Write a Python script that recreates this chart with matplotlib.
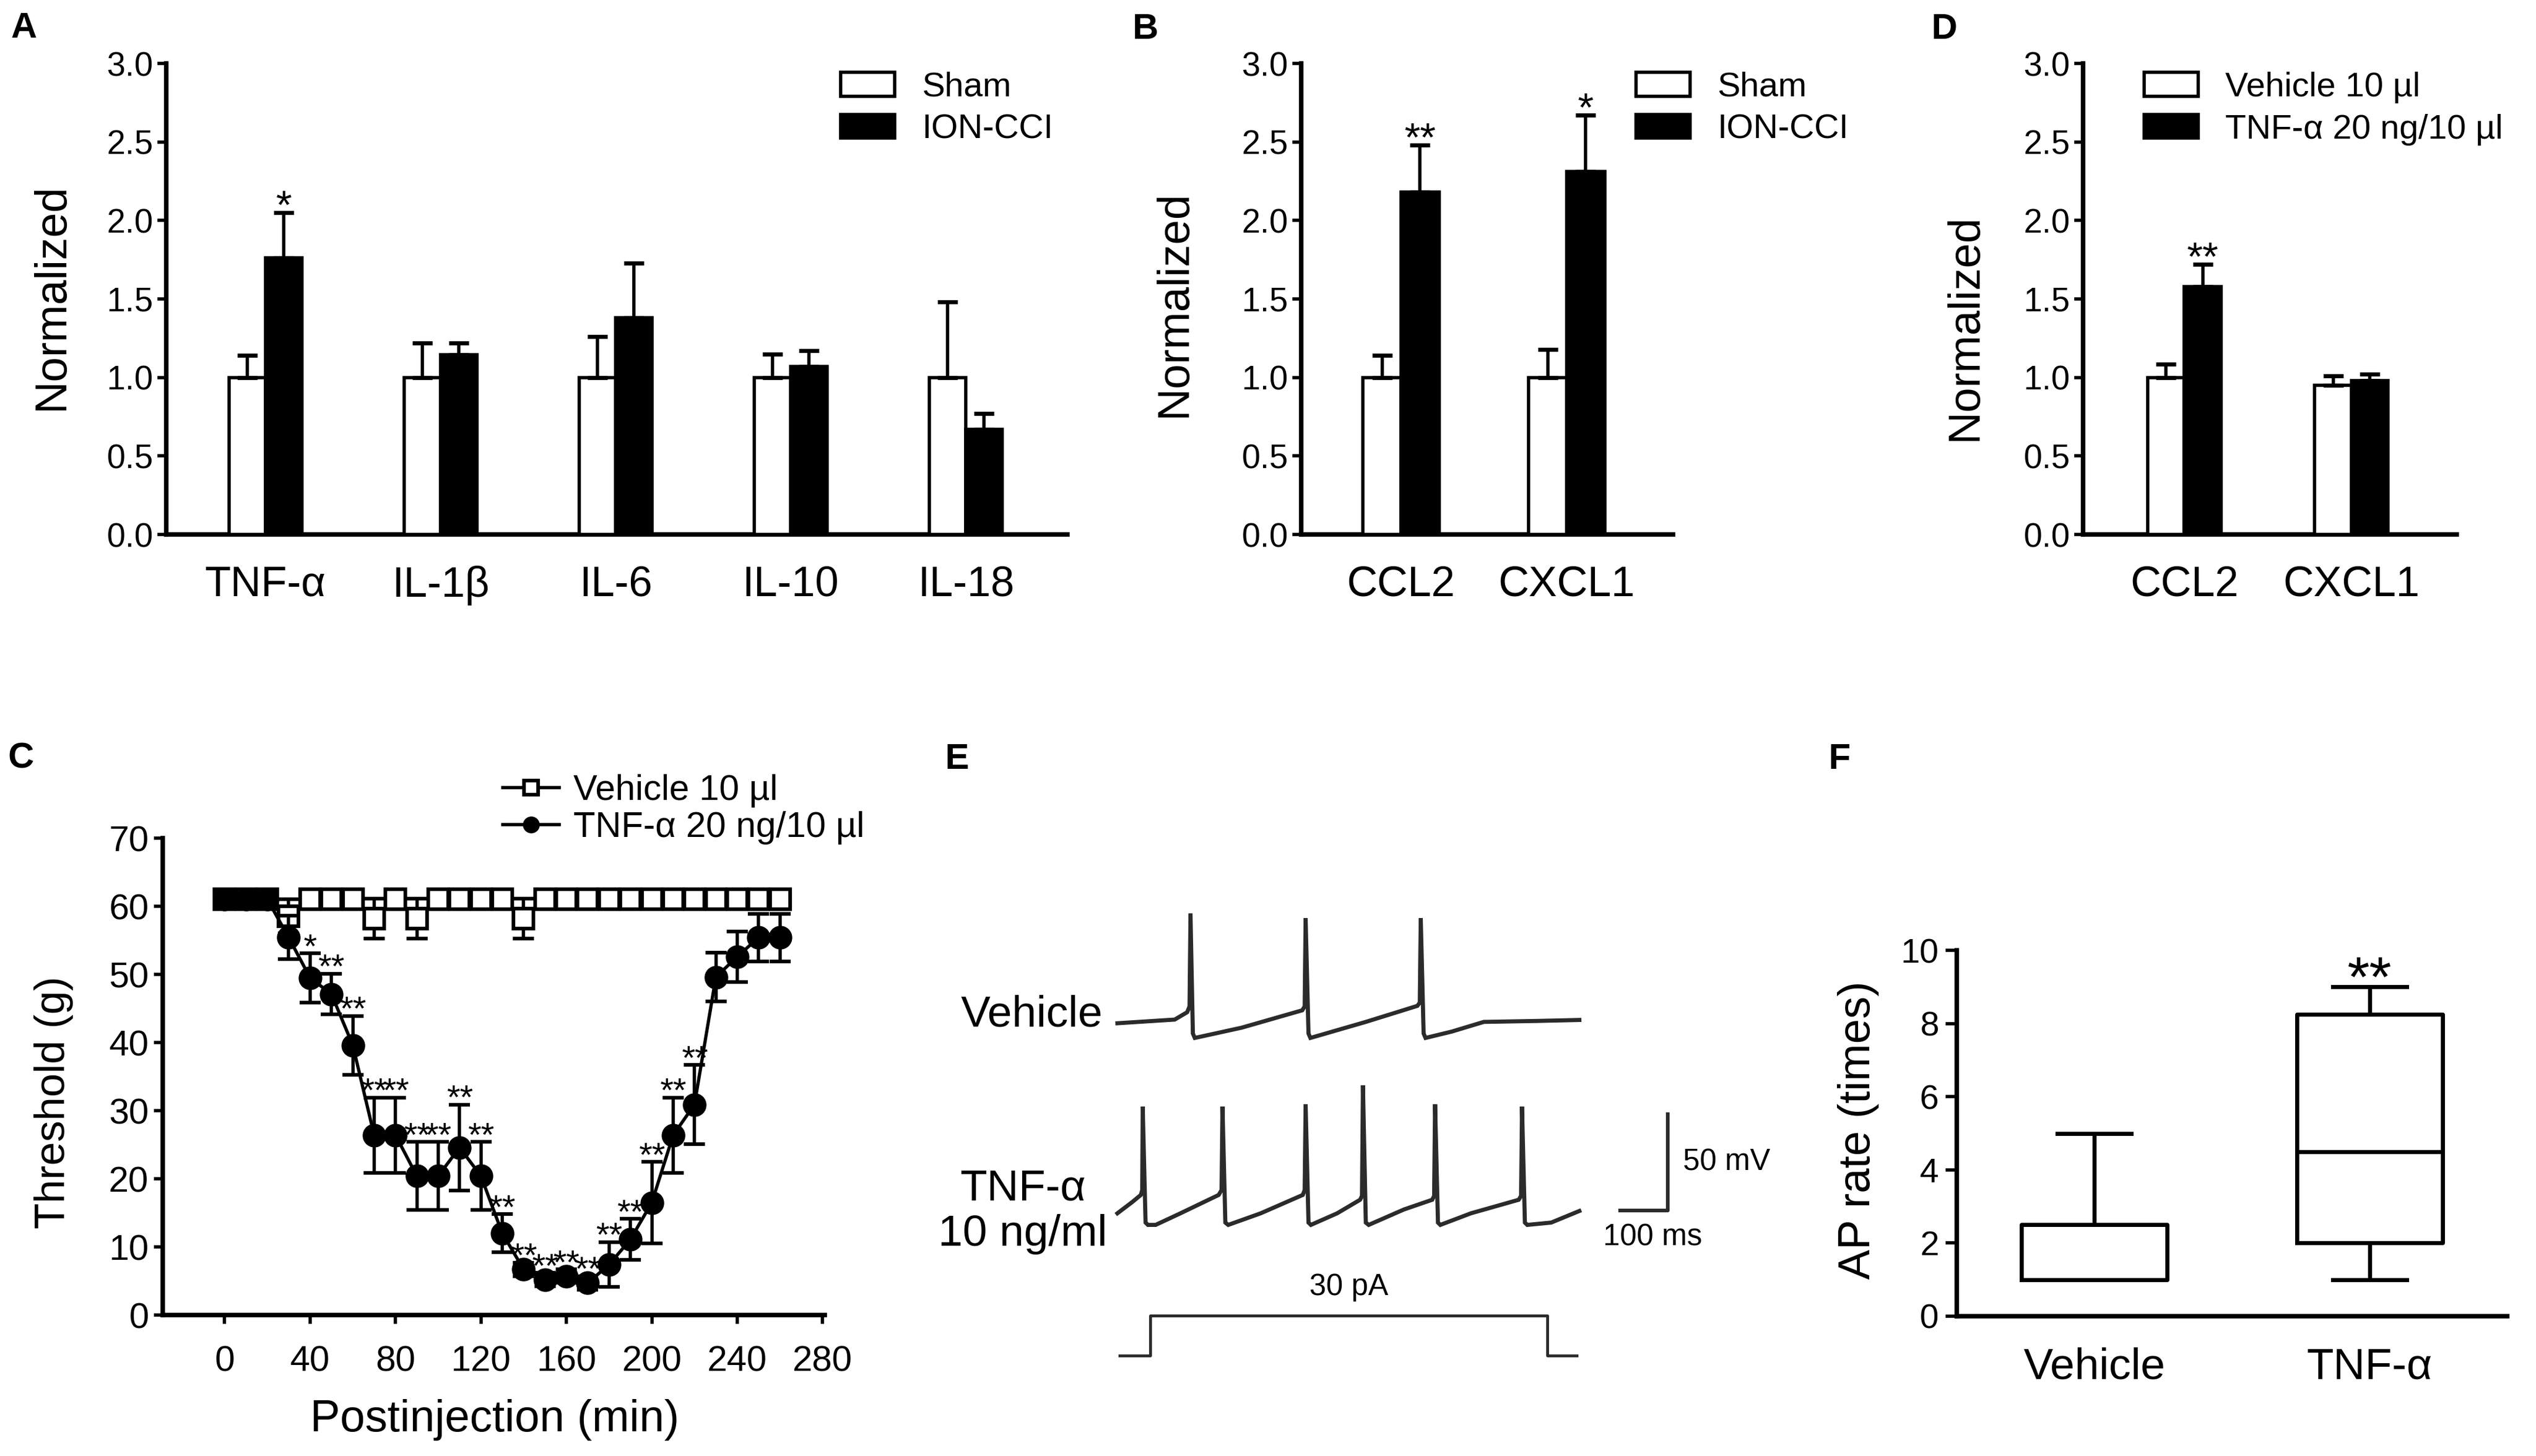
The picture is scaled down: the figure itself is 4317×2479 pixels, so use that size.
import numpy as np
import matplotlib.pyplot as plt
from matplotlib.patches import Patch
from matplotlib.lines import Line2D

plt.rcParams['font.family'] = ['Liberation Sans', 'DejaVu Sans']

# ---- data ----
# A: cytokines, sham vs ION-CCI
cyto_names = ['TNF-α', 'IL-1β', 'IL-6', 'IL-10', 'IL-18']
cyto_sham = [1.0, 1.0, 1.0, 1.0, 1.0]
cyto_sham_err = [0.14, 0.22, 0.26, 0.15, 0.48]
cyto_cci = [1.76, 1.145, 1.38, 1.07, 0.67]
cyto_cci_err = [0.29, 0.075, 0.35, 0.10, 0.10]
cyto_sig = ['*', '', '', '', '']

# B: chemokines, sham vs ION-CCI
chemo_names = ['CCL2', 'CXCL1']
chemo_sham = [1.0, 1.0]
chemo_sham_err = [0.14, 0.18]
chemo_cci = [2.18, 2.31]
chemo_cci_err = [0.30, 0.36]
chemo_sig = ['**', '*']

# D: chemokines, vehicle vs TNF-a injection
inj_veh = [1.0, 0.95]
inj_veh_err = [0.086, 0.06]
inj_tnf = [1.58, 0.98]
inj_tnf_err = [0.14, 0.04]
inj_sig = ['**', '']

# C: mechanical threshold time course
t_min = [0, 10, 20, 30, 40, 50, 60, 70, 80, 90, 100, 110, 120, 130,
         140, 150, 160, 170, 180, 190, 200, 210, 220, 230, 240, 250, 260]
veh_thr = [61, 61, 61, 58.5, 61, 61, 61, 58.2, 61, 58.2, 61, 61, 61, 61,
           58.2, 61, 61, 61, 61, 61, 61, 61, 61, 61, 61, 61, 61]
veh_thr_err = [0, 0, 0, 2.5, 0, 0, 0, 2.9, 0, 2.9, 0, 0, 0, 0,
               2.9, 0, 0, 0, 0, 0, 0, 0, 0, 0, 0, 0, 0]
tnf_thr = [61, 61, 61, 55.4, 49.5, 47.1, 39.6, 26.4, 26.4, 20.4, 20.4, 24.6, 20.4, 12.0,
           6.7, 5.2, 5.7, 4.7, 7.4, 11.1, 16.5, 26.4, 30.9, 49.6, 52.6, 55.4, 55.4]
tnf_thr_err = [0, 0, 0, 3.2, 3.6, 3.0, 4.3, 5.5, 5.5, 5.0, 5.0, 6.3, 5.0, 2.8,
               1.0, 1.0, 1.0, 1.0, 3.3, 3.0, 6.0, 5.5, 5.8, 3.6, 3.7, 3.5, 3.5]
tnf_thr_sig = ['', '', '', '', '*', '**', '**', '**', '**', '**', '**', '**', '**', '**',
               '**', '**', '**', '**', '**', '**', '**', '**', '**', '', '', '', '']

# E: current-clamp traces (ms, mV)
veh_trace = [(0, -65.7), (120, -63.8), (146, -60), (151, -57), (153, -9), (158, -71),
             (162, -73.3), (260, -68), (387, -59), (392, -57), (394, -11.4), (400, -71),
             (404, -73.3), (520, -65), (628, -56.7), (633, -55), (635, -11.4), (641, -71),
             (645, -73.3), (700, -70), (767, -65), (880, -64.5), (967, -64)]
tnf_trace = [(0, -65), (32, -59), (49, -55.5), (52, -53), (53, -9.8), (59, -69.8),
             (64, -71), (80, -71), (132, -65), (212, -55.5), (218, -53), (220, -9.8),
             (226, -69.8), (232, -71), (300, -65), (388, -55.5), (392, -53), (394, -8.6),
             (400, -69.8), (405, -71), (460, -65), (508, -58), (512, -56), (514, 1.2),
             (520, -69.8), (526, -71), (600, -63), (659, -58), (663, -56), (665, -8.6),
             (671, -69.8), (676, -71), (740, -65), (840, -58), (845, -56), (847, -9.8),
             (853, -69.8), (858, -71), (908, -69.8), (967, -63.8)]
tnf_trace_offset = -99          # display offset of the second trace (mV)
step_t = [5, 69, 69, 900, 900, 961]
step_pa = [0, 0, 30, 30, 0, 0]
scale_ms, scale_mv = 100, 50

# F: AP rate box plot
ap_groups = ['Vehicle', 'TNF-α']
ap_min = [1.0, 1.0]
ap_q1 = [1.0, 2.0]
ap_med = [1.0, 4.5]
ap_q3 = [2.5, 8.25]
ap_max = [5.0, 9.0]

# ---- figure ----
W, H = 4317, 2479
fig = plt.figure(figsize=(W / 100, H / 100), dpi=100)


def px_axes(l, r, t, b):
    return fig.add_axes([l / W, 1 - b / H, (r - l) / W, (b - t) / H])


def clean(ax):
    ax.spines['top'].set_visible(False)
    ax.spines['right'].set_visible(False)
    ax.spines['left'].set_linewidth(5.5)
    ax.spines['bottom'].set_linewidth(5.5)


def star(ax, x, y, s, fs):
    if s:
        ax.annotate(s, (x, y), xytext=(0, -0.22 * fs + 4), textcoords='offset points',
                    ha='center', va='baseline', fontsize=fs)


def bar_panel(ax, names, a, a_err, b, b_err, sig, xlim, width, leg_labels, leg_xy, ylab_xy):
    x = np.arange(len(names))
    ekw = dict(lw=4, capsize=12, capthick=5, ecolor='black')
    ax.bar(x - width / 2, a, width, color='white', edgecolor='black', lw=4,
           yerr=[np.zeros(len(a)), a_err], error_kw=ekw, zorder=3)
    ax.bar(x + width / 2, b, width, color='black', edgecolor='black', lw=4,
           yerr=[np.zeros(len(b)), b_err], error_kw=ekw, zorder=3)
    for i in range(len(names)):
        star(ax, x[i] + width / 2, b[i] + b_err[i], sig[i], 50)
    clean(ax)
    ax.set_xlim(*xlim)
    ax.set_ylim(0, 3.0)
    ax.set_yticks(np.arange(0, 3.01, 0.5))
    ax.set_yticklabels(['%.1f' % v for v in np.arange(0, 3.01, 0.5)])
    ax.set_xticks(x)
    ax.set_xticklabels(names)
    ax.tick_params(axis='y', length=11, width=4, labelsize=41, pad=5)
    ax.tick_params(axis='x', length=0, labelsize=52, pad=38)
    ax.set_ylabel('Normalized', fontsize=55, va='center')
    ax.yaxis.set_label_coords(*ylab_xy)
    handles = [Patch(facecolor='white', edgecolor='black', lw=4),
               Patch(facecolor='black', edgecolor='black', lw=4)]
    ax.legend(handles, leg_labels, loc='upper left', bbox_to_anchor=leg_xy,
              bbox_transform=fig.transFigure, frameon=False, fontsize=42,
              borderpad=0, borderaxespad=0, handlelength=1.57, handleheight=0.69,
              handletextpad=0.8, labelspacing=0.3)


# A
axA = px_axes(283, 1817, 108, 910)
bar_panel(axA, cyto_names, cyto_sham, cyto_sham_err, cyto_cci, cyto_cci_err, cyto_sig,
          (-0.567, 4.58), 0.208, ['Sham', 'ION-CCI'], (1431 / W, 1 - 122 / H), (-0.127, 0.505))

# B
axB = px_axes(2215, 2848, 108, 910)
bar_panel(axB, chemo_names, chemo_sham, chemo_sham_err, chemo_cci, chemo_cci_err, chemo_sig,
          (-0.603, 1.642), 0.23, ['Sham', 'ION-CCI'], (2785 / W, 1 - 122 / H), (-0.341, 0.49))

# D
axD = px_axes(3546, 4182, 108, 910)
bar_panel(axD, chemo_names, inj_veh, inj_veh_err, inj_tnf, inj_tnf_err, inj_sig,
          (-0.606, 1.63), 0.22, ['Vehicle 10 µl', 'TNF-α 20 ng/10 µl'],
          (3650 / W, 1 - 122 / H), (-0.316, 0.44))

# C
axC = px_axes(277, 1404, 1427, 2239)
t = np.array(t_min)
ve = np.array(veh_thr_err)
m = ve > 0
axC.plot(t, veh_thr, color='black', lw=4, marker='s', ms=24, mfc='white', mec='black',
         mew=4.5, zorder=3)
axC.errorbar(t[m], np.array(veh_thr)[m], yerr=ve[m], fmt='none', ecolor='black',
             elinewidth=4, capsize=13, capthick=4.5, zorder=2)
te = np.array(tnf_thr_err)
m2 = te > 0
axC.errorbar(t[m2], np.array(tnf_thr)[m2], yerr=te[m2], fmt='none', ecolor='black',
             elinewidth=4, capsize=13, capthick=4.5, zorder=4)
axC.plot(t, tnf_thr, color='black', lw=4, marker='o', ms=28, mfc='black', mec='black',
         zorder=5)
for i in range(len(t)):
    star(axC, t[i], tnf_thr[i] + tnf_thr_err[i], tnf_thr_sig[i], 42)
clean(axC)
axC.set_xlim(-29, 281)
axC.set_ylim(0, 70)
axC.set_xticks(np.arange(0, 281, 40))
axC.set_yticks(np.arange(0, 71, 10))
axC.tick_params(axis='both', length=11, width=4, labelsize=44)
axC.tick_params(axis='y', pad=6)
axC.tick_params(axis='x', pad=26)
axC.set_ylabel('Threshold (g)', fontsize=52, va='center')
axC.yaxis.set_label_coords(-0.165, 0.446)
axC.set_xlabel('Postinjection (min)', fontsize=55, va='center')
axC.xaxis.set_label_coords(0.501, -0.22)
leg_h = [Line2D([], [], color='black', lw=4, marker='s', ms=24, mfc='white', mec='black', mew=4.5),
         Line2D([], [], color='black', lw=4, marker='o', ms=28, mfc='black', mec='black')]
axC.legend(leg_h, ['Vehicle 10 µl', 'TNF-α 20 ng/10 µl'], loc='upper left',
           bbox_to_anchor=(856 / W, 1 - 1318 / H), bbox_transform=fig.transFigure,
           frameon=False, fontsize=44, borderpad=0, borderaxespad=0, handlelength=1.57,
           handletextpad=0.4, labelspacing=0.1, markerscale=0.7, numpoints=1)

# E
trace_col = '#2b2b2b'
axE = px_axes(1894, 2878, 1493, 2102)
axE.set_xlim(-10, 1200)
axE.set_ylim(-175, 10)
axE.axis('off')
vt, vv = zip(*veh_trace)
axE.plot(vt, vv, color=trace_col, lw=5, solid_joinstyle='miter')
tt, tv = zip(*tnf_trace)
axE.plot(tt, np.array(tv) + tnf_trace_offset, color=trace_col, lw=5, solid_joinstyle='miter')
bar_x0, bar_y0 = 1052, -162.6
axE.plot([bar_x0, bar_x0 + scale_ms, bar_x0 + scale_ms],
         [bar_y0, bar_y0, bar_y0 + scale_mv], color=trace_col, lw=4.5)
axE.text(bar_x0 + scale_ms + 32, bar_y0 + scale_mv / 2, '%d mV' % scale_mv, fontsize=37,
         ha='left', va='center')
axE.text(bar_x0 + scale_ms / 2 + 18, bar_y0 - 14, '%d ms' % scale_ms, fontsize=37,
         ha='center', va='center')

axI = px_axes(1894, 2878, 2150, 2330)
axI.set_xlim(-10, 1200)
axI.set_ylim(-9.7, 69.7)
axI.axis('off')
axI.plot(step_t, step_pa, color=trace_col, lw=3.5)
axI.text((step_t[1] + step_t[3]) / 2, 51.6, '%d pA' % max(step_pa), fontsize=37,
         ha='center', va='center')

fig.text(1756 / W, 1 - 1728 / H, 'Vehicle', fontsize=54, ha='center', va='center')
fig.text(1741 / W, 1 - 2063 / H, 'TNF-α\n10 ng/ml', fontsize=54, ha='center', va='center',
         linespacing=1.15)

# F
axF = px_axes(3331, 4268, 1618, 2241)
stats = []
for i in range(len(ap_groups)):
    stats.append(dict(med=ap_med[i], q1=ap_q1[i], q3=ap_q3[i], whislo=ap_min[i],
                      whishi=ap_max[i], fliers=[]))
lp = dict(lw=5, color='black')
axF.bxp(stats, positions=[1, 2], widths=0.53, capwidths=0.27, showfliers=False,
        boxprops=lp, medianprops=lp, whiskerprops=lp, capprops=lp)
star(axF, 2, ap_max[1], '**', 70)
clean(axF)
axF.set_xlim(0.5, 2.5)
axF.set_ylim(0, 10)
axF.set_yticks(np.arange(0, 11, 2))
axF.set_xticks([1, 2])
axF.set_xticklabels(ap_groups)
axF.tick_params(axis='y', length=14, width=4, labelsize=42, pad=8)
axF.tick_params(axis='x', length=0, labelsize=54, pad=38)
axF.set_ylabel('AP rate (times)', fontsize=55, va='center')
axF.yaxis.set_label_coords(-0.179, 0.509)

# panel letters
for letter, (px, py) in {'A': (41, 49), 'B': (1950, 51), 'D': (3310, 51),
                         'C': (36, 1292), 'E': (1629, 1294), 'F': (3132, 1294)}.items():
    fig.text(px / W, 1 - py / H, letter, fontsize=44, fontweight='bold',
             ha='center', va='center')

fig.savefig('out.png', dpi=100, facecolor='white')
